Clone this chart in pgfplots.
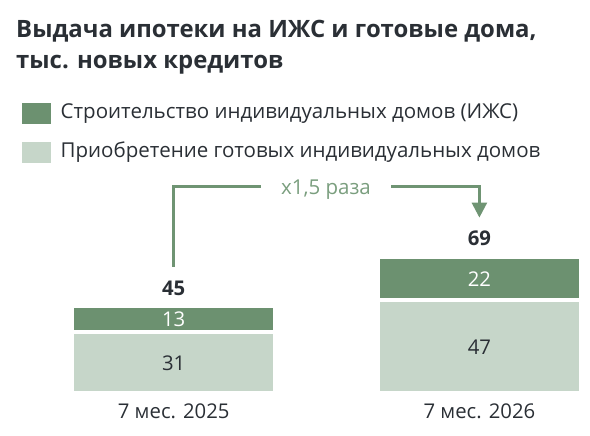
\documentclass[border=0pt]{standalone}
\usepackage{fontspec}
\setmainfont{Open Sans}
\usepackage{pgfplots}
\pgfplotsset{compat=1.18}
\usetikzlibrary{arrows.meta}
\definecolor{dgreen}{HTML}{6C9170}
\definecolor{lgreen}{HTML}{C6D6C9}
\definecolor{txt}{HTML}{2A2F35}
\definecolor{agreen}{HTML}{6F9473}
\definecolor{atext}{HTML}{7A9E7E}

\begin{document}
\begin{tikzpicture}
\begin{axis}[
  scale only axis, width=590pt, height=393.5pt,
  at={(0,0)}, anchor=south west,
  xmin=-0.5682, xmax=1.3618, ymin=0, ymax=198.74,
  ybar stacked, bar width=0.664,
  axis line style={draw=none}, major tick length=0pt,
  xtick={0,1}, xticklabels={7 мес. 2025, 7 мес. 2026},
  xticklabel style={anchor=center, yshift=-17.3pt, inner sep=0pt,
    font=\fontsize{20.3}{24}\selectfont, text=txt},
  ytick=\empty,
  clip=false,
  reverse legend,
  legend cell align=left,
  legend style={at={(22/590,0.7395)}, anchor=north west, draw=none, fill=none,
    inner sep=0pt, row sep=18.5pt,
    font=\fontsize{20.5}{24}\selectfont, text=txt,
    nodes={inner sep=0pt, text height=14pt, text depth=4pt},
    /tikz/every odd column/.style={column sep=9.5pt}},
]
\addplot[fill=lgreen, draw=white, line width=4pt,
  legend image code/.code={\fill[lgreen] (0pt,-8.5pt) rectangle (25pt,8.5pt);}]
  coordinates {(0,31) (1,47)};
\addlegendentry{Приобретение готовых индивидуальных домов}
\addplot[fill=dgreen, draw=white, line width=4pt,
  legend image code/.code={\fill[dgreen] (0pt,-8.5pt) rectangle (25pt,8.5pt);}]
  coordinates {(0,13) (1,22)};
\addlegendentry{Строительство индивидуальных домов (ИЖС)}

\coordinate (a31) at (axis cs:0,15.5);
\coordinate (a47) at (axis cs:1,23.5);
\coordinate (a13) at (axis cs:0,37.5);
\coordinate (a22) at (axis cs:1,58);
\coordinate (t45) at (axis cs:0,44);
\coordinate (t69) at (axis cs:1,69);
\end{axis}
\node[font=\fontsize{20.3}{24}\selectfont, text=txt] at (a31) {31};
\node[font=\fontsize{20.3}{24}\selectfont, text=txt] at (a47) {47};
\node[font=\fontsize{20.3}{24}\selectfont, text=white] at (a13) {13};
\node[font=\fontsize{20.3}{24}\selectfont, text=white] at (a22) {22};
\node[font=\bfseries\fontsize{20.3}{24}\selectfont, text=txt, yshift=18.5pt] at (t45) {45};
\node[font=\bfseries\fontsize{20.3}{24}\selectfont, text=txt, yshift=18.5pt] at (t69) {69};
\begin{scope}[x=1pt, y=1pt]
\node[anchor=base west, font=\bfseries\fontsize{23.9}{30}\selectfont, text=txt, inner sep=0pt]
  at (16,356) {Выдача ипотеки на ИЖС и готовые дома,};
\node[anchor=base west, font=\bfseries\fontsize{23.9}{30}\selectfont, text=txt, inner sep=0pt]
  at (16,324.5) {тыс. новых кредитов};
\draw[agreen, line width=2.7pt, line join=miter] (173.7,126.7) -- (173.7,207.2) -- (260.5,207.2);
\draw[agreen, line width=2.7pt, line join=miter, -{Triangle[width=15pt,length=15pt]}]
  (391.3,207.2) -- (479.4,207.2) -- (479.4,175.9);
\node[anchor=base, font=\fontsize{20.5}{24}\selectfont, text=atext, inner sep=0pt] at (326,198.5) {x1,5 раза};
\pgfresetboundingbox
\path (0,-42.5) rectangle (590,393.5);
\end{scope}
\end{tikzpicture}
\end{document}
